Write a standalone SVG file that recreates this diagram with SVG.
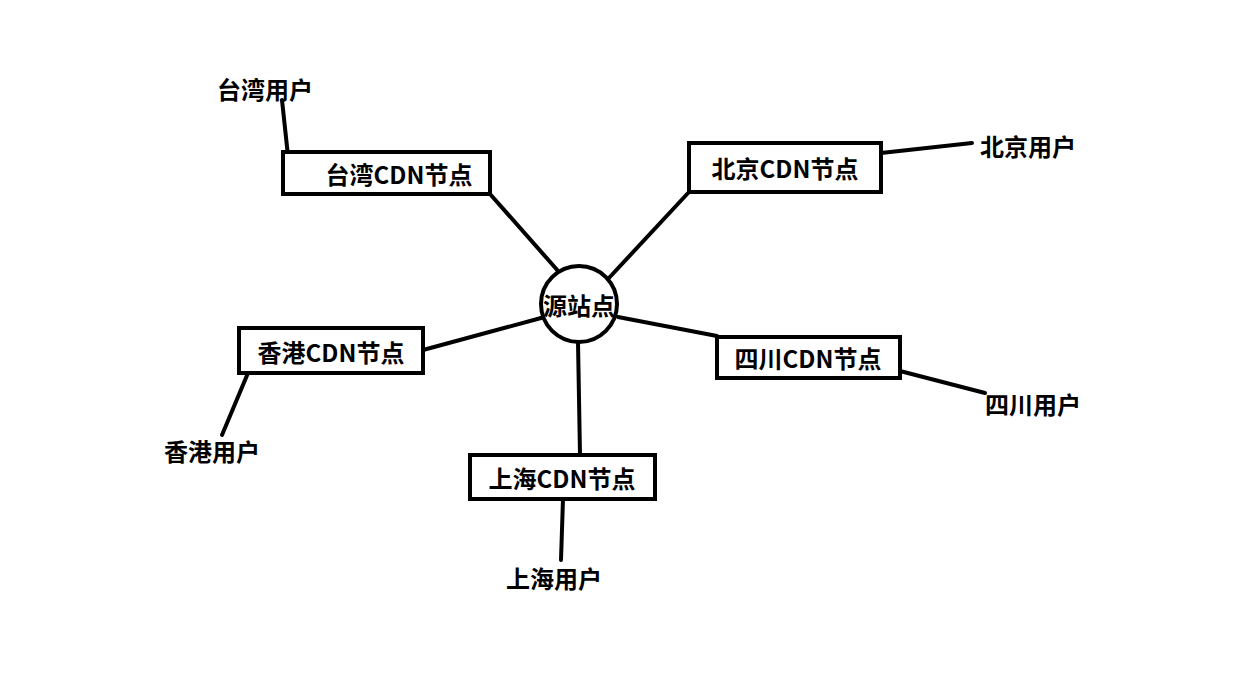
<svg xmlns="http://www.w3.org/2000/svg" width="1258" height="674" viewBox="0 0 1258 674">
<style>
.b{fill:#fff;stroke:#000;stroke-width:4}
.t{font-family:"Noto Sans CJK SC","Liberation Sans",sans-serif;font-weight:bold;font-size:24px;fill:#000;text-anchor:middle;dominant-baseline:central}
.l{stroke:#000;stroke-width:4;fill:none;stroke-linecap:round}
</style>
<rect width="1258" height="674" fill="#fff"/>
<g id="connectors">
<line class="l" x1="490" y1="194" x2="559" y2="272"/>
<line class="l" x1="288" y1="156" x2="282" y2="100"/>
<line class="l" x1="689" y1="192" x2="608" y2="279"/>
<line class="l" x1="881" y1="153" x2="972" y2="143"/>
<line class="l" x1="423" y1="350" x2="541" y2="318"/>
<line class="l" x1="248" y1="373" x2="222" y2="435"/>
<line class="l" x1="618" y1="317" x2="717" y2="336"/>
<line class="l" x1="900" y1="371" x2="985" y2="393"/>
<line class="l" x1="578" y1="342" x2="580" y2="455"/>
<line class="l" x1="563" y1="499" x2="561" y2="560"/>
</g>
<g id="origin"><circle class="b" cx="579" cy="304" r="38"/><text class="t" x="579" y="304">源站点</text></g>
<g id="tw"><rect class="b" x="283" y="152" width="207" height="42"/><text class="t" x="399" y="173">台湾CDN节点</text></g>
<g id="bj"><rect class="b" x="689" y="143" width="192" height="49"/><text class="t" x="785" y="167">北京CDN节点</text></g>
<g id="hk"><rect class="b" x="239" y="328" width="184" height="45"/><text class="t" x="331" y="351">香港CDN节点</text></g>
<g id="sc"><rect class="b" x="717" y="337" width="183" height="41"/><text class="t" x="808" y="357">四川CDN节点</text></g>
<g id="sh"><rect class="b" x="470" y="455" width="185" height="44"/><text class="t" x="562" y="477">上海CDN节点</text></g>
<g id="twu"><text class="t" x="265" y="88">台湾用户</text></g>
<g id="bju"><text class="t" x="1028" y="145">北京用户</text></g>
<g id="hku"><text class="t" x="212" y="450">香港用户</text></g>
<g id="scu"><text class="t" x="1033" y="403">四川用户</text></g>
<g id="shu"><text class="t" x="554" y="577">上海用户</text></g>
</svg>
